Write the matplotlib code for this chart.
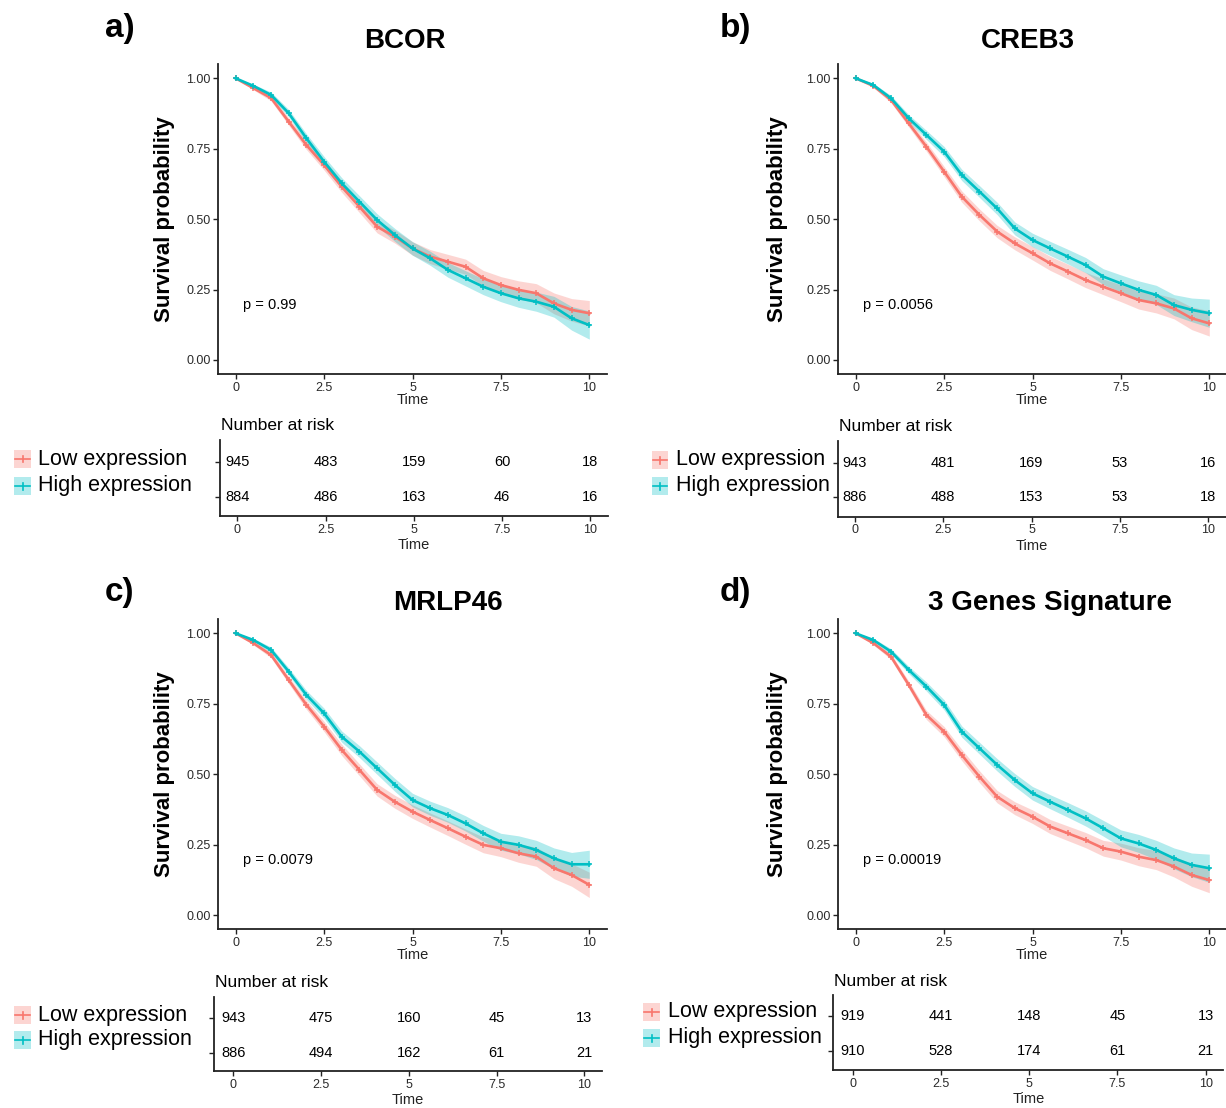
import matplotlib
matplotlib.use("Agg")
import matplotlib.pyplot as plt
from matplotlib.patches import Rectangle
from matplotlib.lines import Line2D
import numpy as np

plt.rcParams['font.family'] = ['Liberation Sans', 'DejaVu Sans']

# ---------------- data ----------------
times = [0, 0.5, 1, 1.5, 2, 2.5, 3, 3.5, 4, 4.5, 5, 5.5, 6, 6.5, 7, 7.5, 8, 8.5, 9, 9.5, 10]

panel_letters = ["a)", "b)", "c)", "d)"]
panel_titles = ["BCOR", "CREB3", "MRLP46", "3 Genes Signature"]
p_values = ["p = 0.99", "p = 0.0056", "p = 0.0079", "p = 0.00019"]
group_names = ["Low expression", "High expression"]

low_a = [1.0, 0.965, 0.93, 0.846, 0.763, 0.692, 0.615, 0.544, 0.473, 0.438, 0.396,
         0.367, 0.349, 0.331, 0.29, 0.266, 0.249, 0.237, 0.201, 0.178, 0.166]
high_a = [1.0, 0.973, 0.941, 0.876, 0.787, 0.704, 0.627, 0.562, 0.497, 0.444, 0.396,
          0.361, 0.32, 0.29, 0.26, 0.237, 0.219, 0.207, 0.189, 0.148, 0.124]
low_b = [1.0, 0.973, 0.923, 0.84, 0.757, 0.669, 0.58, 0.515, 0.456, 0.414, 0.379,
         0.343, 0.314, 0.284, 0.26, 0.237, 0.213, 0.201, 0.183, 0.148, 0.13]
high_b = [1.0, 0.976, 0.929, 0.858, 0.799, 0.74, 0.657, 0.598, 0.538, 0.467, 0.426,
          0.396, 0.367, 0.337, 0.296, 0.272, 0.249, 0.231, 0.195, 0.178, 0.166]
low_c = [1.0, 0.965, 0.923, 0.834, 0.746, 0.669, 0.586, 0.515, 0.444, 0.402, 0.367,
         0.337, 0.308, 0.278, 0.249, 0.237, 0.219, 0.207, 0.166, 0.142, 0.107]
high_c = [1.0, 0.976, 0.941, 0.864, 0.781, 0.716, 0.633, 0.58, 0.521, 0.462, 0.408,
          0.379, 0.355, 0.325, 0.29, 0.26, 0.249, 0.231, 0.201, 0.18, 0.18]
low_d = [1.0, 0.965, 0.917, 0.817, 0.71, 0.651, 0.568, 0.491, 0.42, 0.379, 0.349,
         0.314, 0.29, 0.266, 0.237, 0.225, 0.207, 0.195, 0.172, 0.142, 0.124]
high_d = [1.0, 0.976, 0.935, 0.87, 0.811, 0.746, 0.651, 0.592, 0.533, 0.479, 0.432,
          0.402, 0.373, 0.343, 0.308, 0.272, 0.254, 0.231, 0.201, 0.178, 0.166]

# confidence band half-widths (read approximately)
ci_low_hw = [0.0, 0.006, 0.01, 0.013, 0.016, 0.018, 0.02, 0.021, 0.022, 0.023, 0.024,
             0.025, 0.026, 0.027, 0.028, 0.03, 0.032, 0.034, 0.037, 0.04, 0.045]
ci_high_hw = [0.0, 0.006, 0.01, 0.013, 0.016, 0.018, 0.02, 0.021, 0.022, 0.023, 0.024,
              0.025, 0.026, 0.027, 0.028, 0.03, 0.032, 0.034, 0.037, 0.042, 0.05]

risk_times = [0, 2.5, 5, 7.5, 10]
risk_low = [[945, 483, 159, 60, 18], [943, 481, 169, 53, 16],
            [943, 475, 160, 45, 13], [919, 441, 148, 45, 13]]
risk_high = [[884, 486, 163, 46, 16], [886, 488, 153, 53, 18],
             [886, 494, 162, 61, 21], [910, 528, 174, 61, 21]]

curves_low = [low_a, low_b, low_c, low_d]
curves_high = [high_a, high_b, high_c, high_d]

RED = "#F8766D"
TEAL = "#00BFC4"

# ---------------- layout (pixels) ----------------
W, H = 1226, 1108
fig = plt.figure(figsize=(W / 100, H / 100), dpi=100)

def fx(x):
    return x / W

def fy(y):
    return 1 - y / H

# plot: x0, x10, y1, y0, ylabel right edge
plot_geo = [(235.7, 589.3, 78.3, 360.0, 175),
            (855.7, 1209.3, 78.3, 360.0, 788),
            (235.7, 589.3, 633.3, 915.0, 175),
            (855.7, 1209.3, 633.3, 915.0, 788)]
# table: x0, scale, spine_left, top, bottom, row_low, row_high
table_geo = [(237.3, 35.3, 220.0, 440.0, 516.0, 462.0, 497.0),
             (855.0, 35.3, 838.3, 441.0, 516.7, 462.7, 496.7),
             (233.3, 35.1, 214.3, 996.7, 1071.0, 1018.3, 1052.7),
             (852.7, 35.3, 833.3, 995.0, 1070.0, 1016.0, 1050.7)]
# legend: patch_left, patch_right, text_x, y_low, y_high
legend_geo = [(14, 31, 38, 459, 486),
              (652, 668, 676, 460, 486),
              (14, 31, 38, 1015, 1040),
              (643, 660, 668, 1012, 1038)]
# letters: x, y ; titles: cx, cy
letter_geo = [(105, 28), (720, 28), (105, 592), (720, 592)]
title_geo = [(405, 41), (1028, 41), (448, 603), (1050, 603)]

def style_axes(ax):
    for s in ["top", "right"]:
        ax.spines[s].set_visible(False)
    for s in ["left", "bottom"]:
        ax.spines[s].set_linewidth(1.3)
        ax.spines[s].set_color("#222222")
    ax.tick_params(direction="out", length=3.5, width=1, colors="#222222",
                   labelcolor="#2a2a2a", labelsize=9, pad=2)

t = np.array(times)
for i in range(4):
    x0, x10, y1, y0, ylab_r = plot_geo[i]
    s = (x10 - x0) / 10.0
    sy = (y0 - y1)
    left = x0 - 0.5 * s
    right = min(x10 + 0.5 * s, W)
    top = y1 - 0.05 * sy
    bottom = y0 + 0.05 * sy
    ax = fig.add_axes([fx(left), fy(bottom), (right - left) / W, (bottom - top) / H])
    ax.set_xlim(-0.5, (right - x0) / s)
    ax.set_ylim(-0.05, 1.05)
    style_axes(ax)

    for vals, hw, col in [(curves_low[i], ci_low_hw, RED), (curves_high[i], ci_high_hw, TEAL)]:
        v = np.array(vals)
        h = np.array(hw)
        ax.fill_between(t, v - h, np.minimum(v + h, 1.0), color=col, alpha=0.3, lw=0)
    for vals, col in [(curves_low[i], RED), (curves_high[i], TEAL)]:
        ax.plot(t, vals, color=col, lw=1.9, marker="+", ms=4.5, mew=1.1)

    ax.set_xticks([0, 2.5, 5, 7.5, 10])
    ax.set_xticklabels(["0", "2.5", "5", "7.5", "10"])
    ax.set_yticks([0, 0.25, 0.5, 0.75, 1.0])
    ax.set_yticklabels(["0.00", "0.25", "0.50", "0.75", "1.00"])
    ax.set_xlabel("Time", fontsize=10.5, color="#222222")
    ax.xaxis.set_label_coords(0.5, -(393 - 374) / (bottom - top))
    ax.set_ylabel("Survival probability", fontsize=16, fontweight="bold")
    ax.yaxis.set_label_coords((ylab_r - left) / (right - left), 0.5)
    ax.text(0.2, 0.195, p_values[i], fontsize=10.5, ha="left", va="center")

    # risk table
    tx0, ts, tleft, ttop, tbot, rlow, rhigh = table_geo[i]
    tright = min(tx0 + 10.5 * ts, W)
    tax = fig.add_axes([fx(tleft), fy(tbot), (tright - tleft) / W, (tbot - ttop) / H])
    unit = rhigh - rlow
    tax.set_xlim((tleft - tx0) / ts, (tright - tx0) / ts)
    tax.set_ylim(-(tbot - rhigh) / unit, 1 + (rlow - ttop) / unit)
    style_axes(tax)
    tax.set_yticks([0, 1])
    tax.set_yticklabels(["", ""])
    tax.set_xticks(risk_times)
    tax.set_xticklabels(["0", "2.5", "5", "7.5", "10"])
    for tt, n in zip(risk_times, risk_low[i]):
        tax.text(tt, 1, str(n), ha="center", va="center", fontsize=10.5)
    for tt, n in zip(risk_times, risk_high[i]):
        tax.text(tt, 0, str(n), ha="center", va="center", fontsize=10.5)
    tax.set_xlabel("Time", fontsize=10.5, color="#222222")
    tax.xaxis.set_label_coords(0.5, -(538 - 516) / (tbot - ttop))
    fig.text(fx(tleft + 1), fy(ttop - 14), "Number at risk", fontsize=12.5,
             ha="left", va="center")

    # legend
    pl, pr, txl, yl, yh = legend_geo[i]
    for yy, col, name in [(yl, RED, group_names[0]), (yh, TEAL, group_names[1])]:
        fig.add_artist(Rectangle((fx(pl), fy(yy + 9)), (pr - pl) / W, 18 / H,
                                 transform=fig.transFigure, facecolor=col, alpha=0.3,
                                 edgecolor="none"))
        fig.add_artist(Line2D([fx(pl + 1), fx(pr - 1)], [fy(yy), fy(yy)],
                              transform=fig.transFigure, color=col, lw=1.2))
        fig.add_artist(Line2D([fx((pl + pr) / 2)] * 2, [fy(yy - 3.5), fy(yy + 3.5)],
                              transform=fig.transFigure, color=col, lw=1.2))
        fig.text(fx(txl), fy(yy), name, fontsize=15.5, ha="left", va="center")

    # letters and titles
    lx, ly = letter_geo[i]
    fig.text(fx(lx), fy(ly), panel_letters[i], fontsize=24, fontweight="bold",
             ha="left", va="center")
    cx, cy = title_geo[i]
    fig.text(fx(cx), fy(cy), panel_titles[i], fontsize=20, fontweight="bold",
             ha="center", va="center")

fig.savefig("out.png", dpi=100)
